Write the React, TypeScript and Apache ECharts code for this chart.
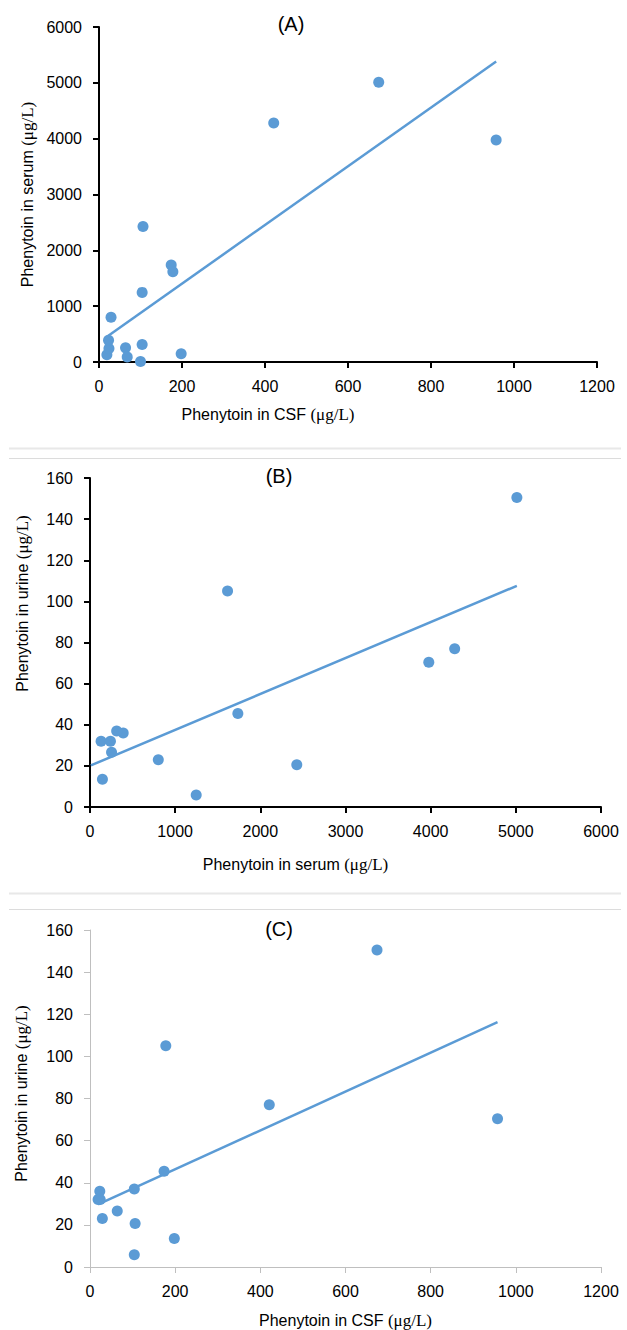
import React, { useEffect, useRef } from "react";
import * as echarts from "echarts";

// Paired measurements per patient (null = no urine value)
const csfValues = [19, 24, 23, 29, 64, 68, 100, 104, 104, 106, 174, 178, 198, 421, 674, 957];
const serumValues = [130, 240, 390, 802, 253, 90, 10, 313, 1247, 2428, 1736, 1615, 146, 4282, 5012, 3978];
const urineValues: (number | null)[] = [32, 32, 36, 23, 26.6, null, null, 37, 5.8, 20.6, 45.5, 105, 13.5, 77, 150.5, 70.4];

const panelTitles = ["(A)", "(B)", "(C)"];
const xAxisNames = ["Phenytoin in CSF ", "Phenytoin in serum ", "Phenytoin in CSF "];
const yAxisNames = ["Phenytoin in serum ", "Phenytoin in urine ", "Phenytoin in urine "];
const unitText = "(μg/L)";
const xMaxes = [1200, 6000, 1200];
const xIntervals = [200, 1000, 200];
const yMaxes = [6000, 160, 160];
const yIntervals = [1000, 20, 20];

const BLUE = "#5b9bd5";

function pairs(xs: number[], ys: (number | null)[]) {
  const out: number[][] = [];
  xs.forEach((x, i) => {
    const y = ys[i];
    if (y !== null && y !== undefined) out.push([x, y]);
  });
  return out;
}

function trend(xs: number[], ys: (number | null)[]) {
  const p = pairs(xs, ys);
  const n = p.length;
  const mx = p.reduce((s, d) => s + d[0], 0) / n;
  const my = p.reduce((s, d) => s + d[1], 0) / n;
  let sxy = 0, sxx = 0;
  p.forEach((d) => {
    sxy += (d[0] - mx) * (d[1] - my);
    sxx += (d[0] - mx) * (d[0] - mx);
  });
  const b = sxy / sxx;
  const a = my - b * mx;
  const x0 = Math.min(...xs);
  const x1 = Math.max(...xs);
  return [[x0, a + b * x0], [x1, a + b * x1]];
}

export default function App() {
  const ref = useRef<HTMLDivElement>(null);
  useEffect(() => {
    document.body.style.margin = "0";
    if (!ref.current) return;
    const chart = echarts.init(ref.current, undefined, { renderer: "svg" });

    const datasets = [
      { x: csfValues, y: serumValues as (number | null)[] },
      { x: serumValues, y: urineValues },
      { x: csfValues, y: urineValues },
    ];

    const grids = [
      { left: 99, right: 30, top: 27, height: 335 },
      { left: 90, right: 26, top: 478, height: 329 },
      { left: 90, right: 26, top: 930, height: 339 },
    ];

    const axisColors = ["#000000", "#000000", "#bfbfbf"];
    const axisWidths = [2, 2, 1];
    const xNamePad = [[0, 160, 0, 0], [0, 100, 0, 0], [0, 0, 0, 0]];
    const yNamePad = [[0, 0, 0, 0], [0, 0, 0, 78], [0, 0, 0, 10]];
    const xNameGaps = [44, 49, 45];
    const yNameGaps = [63, 59, 60];
    const titleTops = [14, 466, 919];
    const titleLefts = [291, 279, 279];

    const nameStyle = (pad: number[]) => ({
      fontFamily: "Liberation Sans, Arial, sans-serif",
      fontSize: 16,
      color: "#000",
      padding: pad,
      rich: {
        u: { fontFamily: "Liberation Serif, serif", fontSize: 17, color: "#000" },
      },
    });

    const xAxis = grids.map((_, i) => ({
      type: "value",
      gridIndex: i,
      min: 0,
      max: xMaxes[i],
      interval: xIntervals[i],
      name: xAxisNames[i] + "{u|" + unitText + "}",
      nameLocation: "middle",
      nameGap: xNameGaps[i],
      nameTextStyle: nameStyle(xNamePad[i]),
      axisLine: { show: true, onZero: false, lineStyle: { color: axisColors[i], width: axisWidths[i] } },
      axisTick: { show: true, length: 6, lineStyle: { color: axisColors[i], width: axisWidths[i] } },
      splitLine: { show: false },
      axisLabel: {
        fontFamily: "Liberation Sans, Arial, sans-serif",
        fontSize: 16,
        color: "#000",
        margin: 16,
        formatter: (v: number) => String(v),
      },
    }));

    const yAxis = grids.map((_, i) => ({
      type: "value",
      gridIndex: i,
      min: 0,
      max: yMaxes[i],
      interval: yIntervals[i],
      name: yAxisNames[i] + "{u|" + unitText + "}",
      nameLocation: "middle",
      nameGap: yNameGaps[i],
      nameTextStyle: nameStyle(yNamePad[i]),
      axisLine: { show: true, onZero: false, lineStyle: { color: axisColors[i], width: axisWidths[i] } },
      axisTick: { show: true, length: 6, lineStyle: { color: axisColors[i], width: axisWidths[i] } },
      splitLine: { show: false },
      axisLabel: {
        fontFamily: "Liberation Sans, Arial, sans-serif",
        fontSize: 16,
        color: "#000",
        margin: 17,
        formatter: (v: number) => String(v),
      },
    }));

    const series: any[] = [];
    datasets.forEach((d, i) => {
      series.push({
        type: "line",
        xAxisIndex: i,
        yAxisIndex: i,
        data: trend(d.x, d.y),
        symbol: "none",
        lineStyle: { color: BLUE, width: 2.5 },
        z: 2,
      });
      series.push({
        type: "scatter",
        xAxisIndex: i,
        yAxisIndex: i,
        data: pairs(d.x, d.y),
        symbol: "circle",
        symbolSize: 11,
        itemStyle: { color: BLUE, opacity: 1 },
        z: 3,
      });
    });

    const sepLine = (y: number, color: string, w: number) => ({
      type: "line",
      shape: { x1: 9, y1: y, x2: 621, y2: y },
      style: { stroke: color, lineWidth: w },
      silent: true,
    });

    chart.setOption({
      animation: false,
      backgroundColor: "#ffffff",
      title: panelTitles.map((t, i) => ({
        text: t,
        left: titleLefts[i],
        top: titleTops[i],
        textAlign: "center",
        padding: 0,
        textStyle: { fontFamily: "Liberation Sans, Arial, sans-serif", fontSize: 20, fontWeight: "normal", color: "#000" },
      })),
      grid: grids,
      xAxis,
      yAxis,
      series,
      graphic: [
        sepLine(448.5, "#e8e8e8", 2),
        sepLine(458.5, "#dcdcdc", 1),
        sepLine(893.5, "#e8e8e8", 2),
        sepLine(909.5, "#dcdcdc", 1),
      ],
    });
    return () => chart.dispose();
  }, []);
  return <div ref={ref} style={{ width: 627, height: 1330 }} />;
}
